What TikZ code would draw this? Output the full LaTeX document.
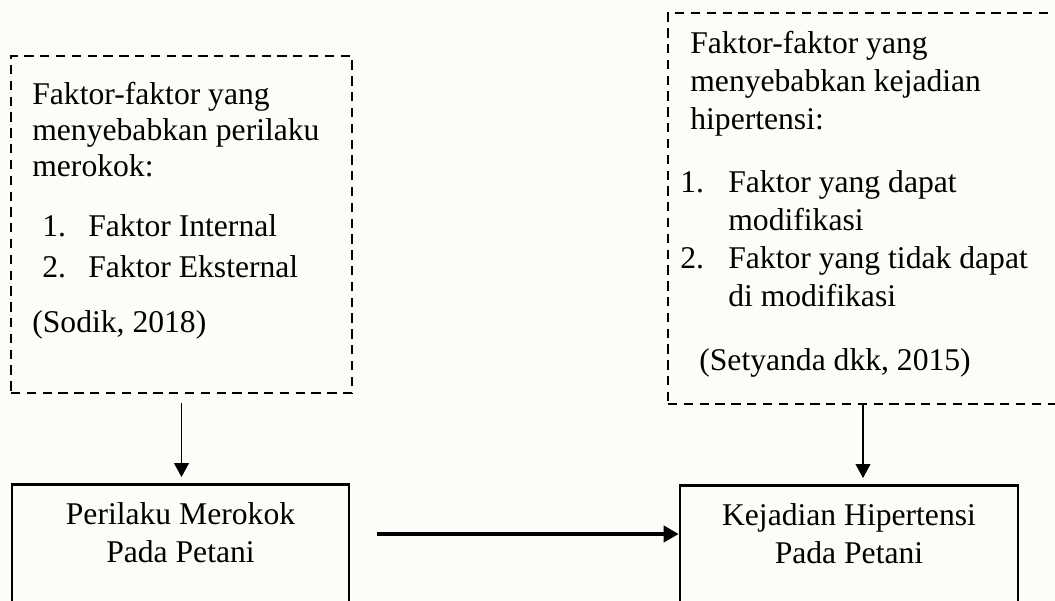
\documentclass[tikz,border=0pt]{standalone}
\usepackage{fontspec}
\setmainfont{Liberation Serif}
\usetikzlibrary{arrows.meta,positioning}

\begin{document}
\begin{tikzpicture}[x=0.02cm,y=-0.02cm,
	>={Triangle[length=0.28cm,width=0.3cm]},
	dashbox/.style={draw, line width=1.4pt, dash pattern=on 5.3pt off 3.7pt, inner sep=0pt},
	solidbox/.style={draw, line width=1.5pt, align=center, inner xsep=0pt, inner ysep=0.36cm,
		text depth=3cm, font=\fontsize{18}{21.5}\selectfont},
	txt/.style={anchor=base west, align=left, inner sep=0pt, font=\fontsize{18}{#1}\selectfont}]

	\useasboundingbox[fill={rgb,255:red,252;green,252;blue,248}] (0,0) rectangle (1055,601);

	% kotak putus-putus
	\node[dashbox, minimum width=6.82cm, minimum height=6.74cm] (rokok) at (181.5,224.5) {};
	\node[dashbox, minimum width=7.8cm, minimum height=7.82cm] (hipertensi) at (863,208.5) {};

	% teks (base = baris terakhir)
	\node[txt=20.7pt] (rokokjudul) at (32,177) {Faktor-faktor yang\\menyebabkan perilaku\\merokok:};
	\node[txt=22.8pt] (rokokdaftar) at (42,277) {\makebox[0.92cm][l]{1.}Faktor Internal\\\makebox[0.92cm][l]{2.}Faktor Eksternal};
	\node[txt=20pt] (rokoksumber) at (32,333) {(Sodik, 2018)};

	\node[txt=21.9pt] (hipjudul) at (690,130) {Faktor-faktor yang\\menyebabkan kejadian\\hipertensi:};
	\node[txt=21.8pt] (hipdaftar) at (680,307) {\makebox[0.96cm][l]{1.}Faktor yang dapat\\\hspace*{0.96cm}modifikasi\\\makebox[0.96cm][l]{2.}Faktor yang tidak dapat\\\hspace*{0.96cm}di modifikasi};
	\node[txt=20pt] (hipsumber) at (699,370) {(Setyanda dkk, 2015)};

	% kotak bawah
	\node[solidbox, minimum width=6.74cm, anchor=north] (perilaku) at (180.5,483) {Perilaku Merokok\\Pada Petani};
	\node[solidbox, minimum width=6.76cm, anchor=north] (kejadian) at (849,484) {Kejadian Hipertensi\\Pada Petani};

	\draw[->, line width=0.6pt, shorten <=0.18cm, shorten >=0.12cm] (rokok.south) -- (rokok.south |- perilaku.north);
	\draw[->, line width=0.6pt, shorten >=0.12cm] (hipertensi.south) -- (hipertensi.south |- kejadian.north);

	\coordinate (panahawal) at (377,534);
	\draw[-{Triangle[length=0.3cm,width=0.32cm]}, line width=2.3pt] (panahawal) -- (panahawal -| kejadian.west);

\end{tikzpicture}
\end{document}
